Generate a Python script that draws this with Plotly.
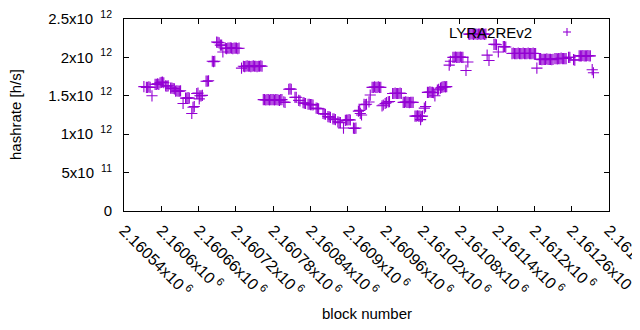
import plotly.graph_objects as go

# ---- data ----
blocks = [
    2160572, 2160576, 2160578, 2160580, 2160582,
    2160585,
    2160590, 2160592, 2160594, 2160596,
    2160598, 2160600, 2160602, 2160604,
    2160607, 2160609, 2160611,
    2160615, 2160617, 2160619, 2160621,
    2160623, 2160625, 2160627, 2160629, 2160631,
    2160635,
    2160639, 2160641, 2160643, 2160645,
    2160649, 2160651, 2160653,
    2160657, 2160659, 2160661, 2160662, 2160664, 2160666,
    2160672, 2160674, 2160676,
    2160682, 2160684, 2160686,
    2160689, 2160691, 2160693, 2160695, 2160697, 2160699,
    2160703, 2160705, 2160707, 2160709, 2160711, 2160713, 2160715, 2160717, 2160719, 2160721, 2160723, 2160725,
    2160729,
    2160732, 2160734, 2160736, 2160738, 2160740, 2160742, 2160744, 2160746, 2160748, 2160750, 2160752, 2160754, 2160756, 2160758, 2160760, 2160762,
    2160764, 2160766, 2160768, 2160770, 2160772, 2160774, 2160776, 2160778, 2160780, 2160782, 2160784, 2160786, 2160788, 2160790, 2160792, 2160794,
    2160797, 2160799,
    2160805, 2160807, 2160809,
    2160815, 2160817,
    2160821, 2160823,
    2160828, 2160830, 2160832,
    2160836, 2160838, 2160840, 2160842, 2160844,
    2160849, 2160851, 2160853,
    2160860, 2160862, 2160864,
    2160868, 2160870, 2160872,
    2160876, 2160878, 2160880,
    2160884, 2160886, 2160888,
    2160893,
    2160896, 2160898, 2160900, 2160902, 2160904,
    2160909, 2160911, 2160913,
    2160917, 2160919, 2160920, 2160922,
    2160926, 2160928, 2160930,
    2160934, 2160936,
    2160939, 2160941, 2160943, 2160945, 2160947, 2160949, 2160951, 2160953,
    2160955, 2160957, 2160960, 2160962, 2160965, 2160967,
    2160972, 2160974, 2160976, 2160978, 2160980, 2160982, 2160984, 2160986,
    2160989, 2160991, 2160993, 2160995, 2160997, 2160999, 2161001, 2161003, 2161005,
    2161008, 2161010, 2161012, 2161014, 2161016, 2161018, 2161020, 2161017,
    2161023, 2161025,
    2161028, 2161030, 2161032, 2161034, 2161036, 2161038,
    2161040, 2161044, 2161046,
    2161049, 2161051, 2161053, 2161055, 2161057, 2161059,
    2161063, 2161065,
    2161069, 2161071, 2161073, 2161075, 2161077, 2161079, 2161081, 2161083, 2161085,
    2161090, 2161093,
    2161094, 2161096, 2161098, 2161100, 2161102, 2161104, 2161106, 2161108, 2161110, 2161112, 2161114, 2161116, 2161118, 2161120, 2161122,
    2161124, 2161127,
    2161135, 2161137, 2161139, 2161142,
    2161150, 2161152, 2161154,
    2161164, 2161166, 2161168, 2161170, 2161172, 2161174, 2161176, 2161178, 2161180, 2161182, 2161184, 2161186, 2161188, 2161190, 2161192, 2161194, 2161196, 2161198, 2161200, 2161202,
    2161204,
    2161208, 2161210, 2161212, 2161214, 2161216, 2161218, 2161220, 2161222, 2161224, 2161226, 2161228, 2161230,
    2161233, 2161235, 2161237, 2161239, 2161241, 2161243, 2161245, 2161247, 2161249, 2161251,
    2161255, 2161257, 2161263, 2161265,
    2161272, 2161274, 2161276, 2161278, 2161280, 2161282, 2161284, 2161286, 2161288, 2161290,
    2161293, 2161295,
]

hashrate = [
    1.62e12, 1.61e12, 1.61e12, 1.615e12, 1.61e12,
    1.50e12,
    1.65e12, 1.65e12, 1.655e12, 1.65e12,
    1.67e12, 1.675e12, 1.68e12, 1.67e12,
    1.63e12, 1.625e12, 1.63e12,
    1.60e12, 1.60e12, 1.595e12, 1.59e12,
    1.56e12, 1.565e12, 1.56e12, 1.56e12, 1.565e12,
    1.40e12,
    1.47e12, 1.47e12, 1.475e12, 1.47e12,
    1.27e12, 1.35e12, 1.36e12,
    1.53e12, 1.535e12, 1.46e12, 1.50e12, 1.50e12, 1.505e12,
    1.69e12, 1.69e12, 1.695e12,
    1.95e12, 1.945e12, 1.95e12,
    2.20e12, 2.195e12, 2.19e12, 2.16e12, 2.16e12, 2.07e12,
    2.12e12, 2.115e12, 2.12e12, 2.12e12, 2.125e12, 2.12e12, 2.115e12, 2.12e12, 2.12e12, 2.12e12, 2.115e12, 2.12e12,
    1.86e12,
    1.885e12, 1.88e12, 1.885e12, 1.89e12, 1.885e12, 1.885e12, 1.88e12, 1.885e12, 1.89e12, 1.885e12, 1.885e12, 1.88e12, 1.885e12, 1.885e12, 1.89e12, 1.885e12,
    1.45e12, 1.45e12, 1.445e12, 1.45e12, 1.45e12, 1.445e12, 1.45e12, 1.45e12, 1.45e12, 1.445e12, 1.45e12, 1.45e12, 1.445e12, 1.44e12, 1.45e12, 1.45e12,
    1.42e12, 1.415e12,
    1.585e12, 1.59e12, 1.585e12,
    1.48e12, 1.48e12,
    1.44e12, 1.435e12,
    1.41e12, 1.405e12, 1.40e12,
    1.39e12, 1.39e12, 1.385e12, 1.385e12, 1.38e12,
    1.34e12, 1.335e12, 1.33e12,
    1.27e12, 1.265e12, 1.26e12,
    1.23e12, 1.225e12, 1.22e12,
    1.20e12, 1.195e12, 1.19e12,
    1.16e12, 1.155e12, 1.15e12,
    1.08e12,
    1.18e12, 1.185e12, 1.185e12, 1.19e12, 1.185e12,
    1.08e12, 1.075e12, 1.08e12,
    1.30e12, 1.31e12, 1.27e12, 1.25e12,
    1.39e12, 1.385e12, 1.39e12,
    1.42e12, 1.51e12,
    1.61e12, 1.61e12, 1.615e12, 1.61e12, 1.61e12, 1.615e12, 1.61e12, 1.61e12,
    1.37e12, 1.38e12, 1.40e12, 1.41e12, 1.42e12, 1.425e12,
    1.53e12, 1.53e12, 1.535e12, 1.53e12, 1.53e12, 1.53e12, 1.535e12, 1.53e12,
    1.415e12, 1.415e12, 1.42e12, 1.415e12, 1.415e12, 1.41e12, 1.415e12, 1.415e12, 1.415e12,
    1.235e12, 1.235e12, 1.24e12, 1.235e12, 1.235e12, 1.23e12, 1.235e12, 1.19e12,
    1.34e12, 1.36e12,
    1.545e12, 1.545e12, 1.55e12, 1.545e12, 1.545e12, 1.54e12,
    1.50e12, 1.575e12, 1.585e12,
    1.60e12, 1.61e12, 1.615e12, 1.62e12, 1.615e12, 1.62e12,
    1.90e12, 1.95e12,
    2.00e12, 2.00e12, 2.005e12, 2.00e12, 2.00e12, 2.00e12, 2.005e12, 2.00e12, 2.00e12,
    1.83e12, 1.94e12,
    2.305e12, 2.30e12, 2.305e12, 2.305e12, 2.30e12, 2.305e12, 2.305e12, 2.30e12, 2.305e12, 2.305e12, 2.30e12, 2.305e12, 2.305e12, 2.30e12, 2.305e12,
    2.03e12, 1.96e12,
    2.17e12, 2.17e12, 2.165e12, 2.07e12,
    2.14e12, 2.14e12, 2.135e12,
    2.05e12, 2.055e12, 2.05e12, 2.05e12, 2.05e12, 2.055e12, 2.05e12, 2.05e12, 2.05e12, 2.055e12, 2.05e12, 2.05e12, 2.05e12, 2.055e12, 2.05e12, 2.05e12, 2.05e12, 2.055e12, 2.05e12, 2.05e12,
    1.86e12,
    1.975e12, 1.975e12, 1.97e12, 1.975e12, 1.975e12, 1.975e12, 1.98e12, 1.975e12, 1.975e12, 1.975e12, 1.97e12, 1.975e12,
    1.985e12, 1.985e12, 1.98e12, 1.985e12, 1.985e12, 1.99e12, 1.985e12, 1.985e12, 1.985e12, 1.985e12,
    2.00e12, 2.00e12, 1.97e12, 1.965e12,
    2.02e12, 2.02e12, 2.02e12, 2.025e12, 2.02e12, 2.02e12, 2.02e12, 2.025e12, 2.02e12, 2.02e12,
    1.84e12, 1.80e12,
]

x_tick_mantissas = ["2.16054", "2.1606", "2.16066", "2.16072", "2.16078", "2.16084", "2.1609",
                    "2.16096", "2.16102", "2.16108", "2.16114", "2.1612", "2.16126", "2.16132"]
x_tickvals = [2160540 + 60 * i for i in range(len(x_tick_mantissas))]
y_tick_labels = [("0", ""), ("5", "11"), ("1", "12"), ("1.5", "12"), ("2", "12"), ("2.5", "12")]
y_tickvals = [0, 0.5e12, 1.0e12, 1.5e12, 2.0e12, 2.5e12]


def sci_y(m, e):
    if not e:
        return m
    return f"{m}x10&nbsp;<sup>&nbsp;{e}</sup>"


def sci_x(m, e):
    return f"{m}x10<sup>&nbsp;{e}</sup>"


x_ticktext = [sci_x(m, "6") for m in x_tick_mantissas]
y_ticktext = [sci_y(m, e) for m, e in y_tick_labels]

series_name = "LYRA2REv2"
color = "#9400d3"
FONT = "Liberation Sans, Arial, sans-serif"

fig = go.Figure()
fig.add_trace(go.Scatter(
    x=blocks, y=hashrate, mode="markers", name=series_name,
    marker=dict(symbol="cross-thin-open", size=8, color=color,
                line=dict(color=color, width=1.1)),
    showlegend=False,
))

axis_common = dict(
    showgrid=False, zeroline=False, showline=True, linecolor="black", linewidth=1,
    mirror="ticks", ticks="inside", ticklen=5, tickcolor="black", tickwidth=1,
    automargin=False, ticklabeloverflow="allow",
)

fig.update_xaxes(range=[2160540, 2161320], tickmode="array", tickvals=x_tickvals,
                 ticktext=x_ticktext, tickangle=45,
                 tickfont=dict(family=FONT, size=16, color="black"),
                 ticklabelstandoff=3, **axis_common)
fig.update_yaxes(range=[0, 2.5e12], tickmode="array", tickvals=y_tickvals,
                 ticktext=y_ticktext, ticklabelstandoff=8,
                 tickfont=dict(family=FONT, size=15, color="black"), **axis_common)

# the page body has an 8px margin; the figure is sized so that the plot box
# lands at x 124..609, y 19..211 of the 640x330 window
OFF = 8
L, T, R, B = 124, 19, 609, 211
W, H = R - L, B - T

# gnuplot-style key: text on the left, sample mark on the right
kx, ky = 567, 32
px = (kx - L) / W
py = 1 - (ky - T) / H
dx, dy = 4 / W, 4 / H
fig.add_shape(type="line", xref="paper", yref="paper", x0=px - dx, x1=px + dx, y0=py, y1=py,
              line=dict(color=color, width=1.1))
fig.add_shape(type="line", xref="paper", yref="paper", x0=px, x1=px, y0=py - dy, y1=py + dy,
              line=dict(color=color, width=1.1))

fig.add_annotation(text=series_name, xref="paper", yref="paper", x=(534 - L) / W, y=py,
                   xanchor="right", yanchor="middle", showarrow=False,
                   font=dict(family=FONT, size=15, color="black"))
fig.add_annotation(text="block number", xref="paper", yref="paper", x=0.5, y=0,
                   xanchor="center", yanchor="top", yshift=-92, showarrow=False,
                   font=dict(family=FONT, size=15, color="black"))
fig.add_annotation(text="hashrate [h/s]", xref="paper", yref="paper", x=0, y=0.5,
                   xanchor="center", yanchor="middle", xshift=-109, textangle=-90,
                   showarrow=False, font=dict(family=FONT, size=15, color="black"))

fig.update_layout(
    width=640 - OFF, height=330 - OFF,
    margin=dict(l=L - OFF, r=640 - R, t=T - OFF, b=330 - B, pad=0),
    paper_bgcolor="white", plot_bgcolor="white",
    font=dict(family=FONT, size=15, color="black"),
)

fig.write_html("out.html")
